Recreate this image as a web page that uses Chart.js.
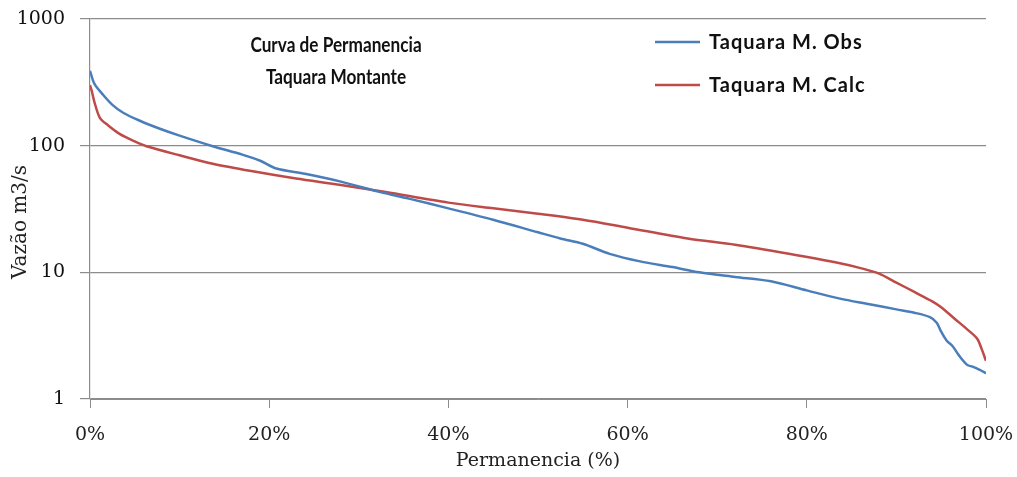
<!DOCTYPE html>
<html>
<head>
<meta charset="utf-8">
<script src="https://cdn.jsdelivr.net/npm/chart.js@4/dist/chart.umd.min.js"></script>
<style>
  html, body { margin: 0; padding: 0; background: #fff; }
  #wrap { width: 1017px; height: 477px; position: relative; }
</style>
</head>
<body>
<div id="wrap"><canvas id="chart"></canvas></div>
<script>
// Curva de permanencia - Taquara Montante
const chartTitle = ['Curva de Permanencia', 'Taquara Montante'];
const seriesNames = ['Taquara M. Obs', 'Taquara M. Calc'];
const yTitle = 'Vazão m3/s';
const xTitle = 'Permanencia (%)';

const obsPct = [0, 0.5, 1.5, 2.5, 3.7, 5.5, 7.8, 10, 13.7, 17, 19, 20.8, 24, 28, 32.4, 35.7, 40, 45, 50, 52.5, 55, 58, 61.4, 65, 68, 72, 76, 80, 83.7, 87, 90, 92, 93.75, 94.5, 95, 95.6, 96.3, 97, 97.9, 98.5, 99.3, 100];
const obsQ   = [390, 307, 250, 210, 182, 158, 136, 120, 99, 85, 76, 66, 60, 52, 43, 38, 32, 26, 20.7, 18.5, 16.8, 14, 12.2, 11, 10, 9.2, 8.5, 7.2, 6.2, 5.6, 5.1, 4.8, 4.43, 4.0, 3.4, 2.9, 2.6, 2.2, 1.86, 1.8, 1.7, 1.6];

const calcPct = [0, 0.2, 0.5, 1.1, 2, 3.3, 5, 6.3, 10, 13.7, 18, 23, 28, 33, 40, 45, 50, 55, 60, 66.7, 72, 78, 83.7, 86, 88, 90, 92, 94, 95, 96.5, 98, 99, 99.5, 100];
const calcQ   = [300, 270, 220, 166, 145, 124, 108, 99, 84, 72, 63, 55, 49, 43, 35.5, 32, 29, 26, 22.5, 18.5, 16.5, 14, 11.8, 10.8, 9.8, 8.3, 7, 5.9, 5.3, 4.3, 3.5, 3.0, 2.5, 2.0];

const yTicks = [1, 10, 100, 1000];
const xTicks = [0, 20, 40, 60, 80, 100];

const colors = ['#4a7ebb', '#be4b48'];
const gridColor = '#8c8c8c';
const serif = "'DejaVu Serif', serif";

const toPoints = (xs, ys) => xs.map((x, i) => ({ x: x, y: ys[i] }));

// titulo, legenda e titulo do eixo y desenhados a mao
const overlay = {
  id: 'overlay',
  afterDraw(chart) {
    const ctx = chart.ctx;
    ctx.save();
    ctx.fillStyle = '#111';
    ctx.textAlign = 'center';
    ctx.textBaseline = 'alphabetic';
    ctx.font = "700 20px Lato, sans-serif";
    // fonte do titulo um pouco condensada
    ctx.save();
    ctx.translate(336, 0);
    ctx.scale(0.86, 1);
    ctx.fillText(chartTitle[0], 0, 52);
    ctx.fillText(chartTitle[1], 0, 84);
    ctx.restore();

    // eixo y: um pouco abaixo do centro, como no original
    ctx.save();
    ctx.fillStyle = '#222';
    ctx.textBaseline = 'middle';
    ctx.font = "20px " + serif;
    ctx.translate(21, 222);
    ctx.rotate(-Math.PI / 2);
    ctx.fillText(yTitle, 0, 0);
    ctx.restore();

    ctx.textAlign = 'left';
    ctx.font = "700 20px Lato, sans-serif";
    ctx.letterSpacing = '1px';
    chart.data.datasets.forEach((ds, i) => {
      const y = 42 + i * 43;
      ctx.strokeStyle = ds.borderColor;
      ctx.lineWidth = 2.5;
      ctx.beginPath();
      ctx.moveTo(655, y);
      ctx.lineTo(700, y);
      ctx.stroke();
      ctx.fillText(ds.label, 709, y + 7);
    });
    ctx.restore();
  }
};

new Chart(document.getElementById('chart'), {
  type: 'line',
  data: {
    datasets: [
      {
        label: seriesNames[0],
        data: toPoints(obsPct, obsQ),
        borderColor: colors[0],
        borderWidth: 2.5,
        pointRadius: 0,
        tension: 0.3
      },
      {
        label: seriesNames[1],
        data: toPoints(calcPct, calcQ),
        borderColor: colors[1],
        borderWidth: 2.5,
        pointRadius: 0,
        tension: 0.3
      }
    ]
  },
  options: {
    responsive: true,
    maintainAspectRatio: false,
    animation: false,
    layout: { padding: { top: 19, right: 31, left: 0, bottom: 0 } },
    plugins: {
      legend: { display: false },
      tooltip: { enabled: false },
      title: { display: false }
    },
    scales: {
      x: {
        type: 'linear',
        min: 0,
        max: 100,
        afterBuildTicks: scale => { scale.ticks = xTicks.map(v => ({ value: v })); },
        afterFit: scale => {
          scale.height = 78;
          scale.paddingLeft = 0;
          scale.paddingRight = 0;
        },
        grid: { drawOnChartArea: false, drawTicks: true, tickLength: 9, color: gridColor },
        border: { display: true, color: gridColor },
        ticks: {
          color: '#222',
          padding: 16,
          maxRotation: 0,
          font: { family: serif, size: 19 },
          callback: v => v + '%'
        },
        title: {
          display: true,
          text: xTitle,
          color: '#222',
          font: { family: serif, size: 19 },
          padding: { top: 0, bottom: 5 }
        }
      },
      y: {
        type: 'logarithmic',
        min: 1,
        max: 1000,
        afterBuildTicks: scale => { scale.ticks = yTicks.map(v => ({ value: v })); },
        afterFit: scale => {
          scale.width = 90;
          scale.paddingTop = 0;
          scale.paddingBottom = 0;
        },
        grid: { color: gridColor, lineWidth: 1.2, tickLength: 10 },
        border: { display: true, color: gridColor, width: 1.2 },
        ticks: {
          color: '#111',
          padding: 15,
          font: { family: serif, size: 19 },
          callback: v => String(v)
        }
      }
    }
  },
  plugins: [overlay]
});
</script>
</body>
</html>
